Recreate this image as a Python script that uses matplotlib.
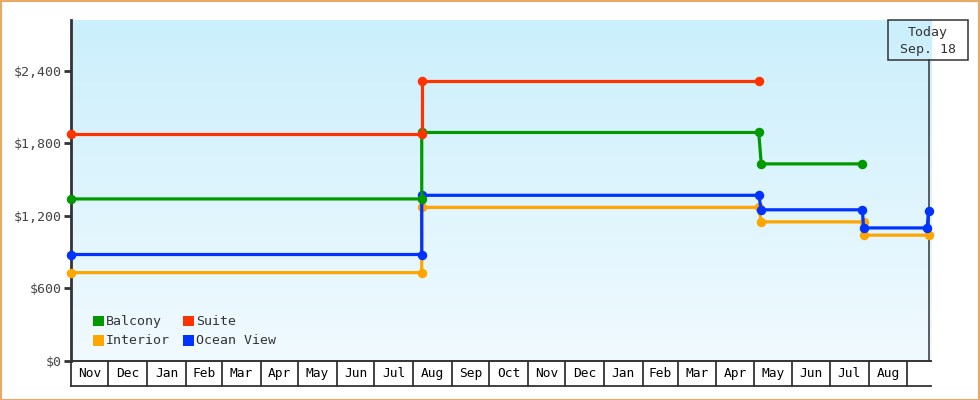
import matplotlib
matplotlib.use('Agg')
import matplotlib.pyplot as plt
import matplotlib.dates as mdates
import matplotlib.transforms as mtransforms
from matplotlib.patches import Rectangle
import pandas as pd
import numpy as np

# ---------------- data ----------------
month_labels = ['Nov', 'Dec', 'Jan', 'Feb', 'Mar', 'Apr', 'May', 'Jun', 'Jul', 'Aug', 'Sep', 'Oct',
                'Nov', 'Dec', 'Jan', 'Feb', 'Mar', 'Apr', 'May', 'Jun', 'Jul', 'Aug']
axis_start = '2015-11-01'
axis_end = '2017-09-20'
today = '2017-09-18'
today_lines = ['Today', 'Sep. 18']

y_ticks = [0, 600, 1200, 1800, 2400]
y_max = 2820

series_names = ['Balcony', 'Suite', 'Interior', 'Ocean View']
series_colors = ['#009900', '#ff3300', '#ffa500', '#0033ff']

balcony_dates = ['2015-11-01', '2016-08-08', '2016-08-08', '2017-05-05', '2017-05-07', '2017-07-27']
balcony_prices = [1339, 1339, 1889, 1889, 1629, 1629]

suite_dates = ['2015-11-01', '2016-08-08', '2016-08-08', '2017-05-05']
suite_prices = [1879, 1879, 2319, 2319]

interior_dates = ['2015-11-01', '2016-08-08', '2016-08-08', '2017-05-05', '2017-05-07',
                  '2017-07-28', '2017-07-28', '2017-09-18']
interior_prices = [729, 729, 1269, 1269, 1149, 1149, 1039, 1039]

ocean_dates = ['2015-11-01', '2016-08-08', '2016-08-08', '2017-05-05', '2017-05-07',
               '2017-07-27', '2017-07-28', '2017-09-17', '2017-09-18']
ocean_prices = [879, 879, 1369, 1369, 1249, 1249, 1099, 1099, 1239]

series = {
    'Balcony': (balcony_dates, balcony_prices),
    'Suite': (suite_dates, suite_prices),
    'Interior': (interior_dates, interior_prices),
    'Ocean View': (ocean_dates, ocean_prices),
}
draw_order = ['Interior', 'Ocean View', 'Balcony', 'Suite']

# ---------------- figure ----------------
W, H = 980, 400
FONT = 'DejaVu Sans Mono'
DARK = '#333333'

fig = plt.figure(figsize=(W / 100, H / 100), dpi=100)
fig.patch.set_facecolor('white')

def fx(x):
    return x / W

def fy(y):
    return 1 - y / H

ax_left, ax_right, ax_top, ax_bottom = 71, 931, 20, 360.7
ax = fig.add_axes([fx(ax_left), fy(ax_bottom), (ax_right - ax_left) / W, (ax_bottom - ax_top) / H])
ax.set_facecolor('none')

x0 = mdates.date2num(pd.Timestamp(axis_start))
x1 = mdates.date2num(pd.Timestamp(axis_end))

# gradient background
top_c = np.array([203, 239, 252]) / 255
bot_c = np.array([241, 250, 255]) / 255
t = np.linspace(0, 1, 256)[:, None]
grad = (top_c[None, :] * (1 - t) + bot_c[None, :] * t)[:, None, :]
ax.imshow(grad, extent=(0, 1, 0, 1), transform=ax.transAxes, aspect='auto', zorder=0,
          interpolation='bilinear')
ax.set_xlim(x0, x1)
ax.set_ylim(0, y_max)

# spines
for s in ['top', 'right']:
    ax.spines[s].set_visible(False)
ax.spines['left'].set_color(DARK)
ax.spines['left'].set_linewidth(2.0)
ax.spines['bottom'].set_color(DARK)
ax.spines['bottom'].set_linewidth(1.4)

ax.set_xticks([])
ax.set_yticks(y_ticks)
ax.set_yticklabels(['${:,}'.format(v) for v in y_ticks], fontfamily=FONT, fontsize=9.5, color='#444444')
ax.tick_params(axis='y', direction='out', length=5, width=2, color=DARK, pad=1.5)

# series
for name in draw_order:
    dates, prices = series[name]
    col = series_colors[series_names.index(name)]
    xs = mdates.date2num(pd.to_datetime(dates))
    z = 3 + draw_order.index(name)
    ax.plot(xs, prices, color=col, lw=2.3, solid_capstyle='butt', zorder=z, clip_on=False)
    ax.plot(xs, prices, ls='none', marker='o', ms=5.8, color=col, mec=col, zorder=z, clip_on=False)

# today line
tx = mdates.date2num(pd.Timestamp(today))
blend = mtransforms.blended_transform_factory(ax.transData, ax.transAxes)
ax.plot([tx, tx], [0, (ax_bottom - 60.3) / (ax_bottom - ax_top)], color=DARK, lw=1.1,
        transform=blend, zorder=2, clip_on=False)

# month boxes below axis
box_h = (385.7 - ax_bottom) / (ax_bottom - ax_top)
bounds = pd.date_range(axis_start, periods=len(month_labels) + 1, freq='MS')
bnum = mdates.date2num(bounds)
for b in bnum:
    ax.plot([b, b], [0, -box_h], color=DARK, lw=1.3, transform=blend, clip_on=False, zorder=5)
ax.plot([x0, x1], [-box_h, -box_h], color=DARK, lw=1.3, transform=blend, clip_on=False, zorder=5)
for i, lab in enumerate(month_labels):
    mid = (bnum[i] + bnum[i + 1]) / 2
    ax.text(mid, -box_h / 2, lab, transform=blend, ha='center', va='center', fontfamily=FONT,
            fontsize=9.3, color='black')

# legend (manual)
leg_pos = {'Balcony': (92.7, 315.7), 'Suite': (182.7, 315.7),
           'Interior': (92.7, 335.3), 'Ocean View': (182.7, 335.3)}
for name in series_names:
    px, py = leg_pos[name]
    col = series_colors[series_names.index(name)]
    fig.patches.append(Rectangle((fx(px), fy(py + 10.5)), 11 / W, 10.5 / H, transform=fig.transFigure,
                                 facecolor=col, edgecolor='none', zorder=10))
    fig.text(fx(px + 13.5), fy(py + 5.5), name, ha='left', va='center', fontfamily=FONT,
             fontsize=9.5, color=DARK, zorder=10)

# today box
fig.patches.append(Rectangle((fx(888.3), fy(60.3)), 80 / W, 40 / H, transform=fig.transFigure,
                             facecolor='none', edgecolor=DARK, lw=1.1, zorder=10))
fig.text(fx(928), fy(32.5), today_lines[0], ha='center', va='center', fontfamily=FONT,
         fontsize=9.5, color=DARK)
fig.text(fx(928), fy(50), today_lines[1], ha='center', va='center', fontfamily=FONT,
         fontsize=9.5, color=DARK)

# orange frame
fig.patches.append(Rectangle((0.5 / W, 0.5 / H), 1 - 1.5 / W, 1 - 1.5 / H, transform=fig.transFigure,
                             facecolor='none', edgecolor='#e9a964', lw=1.5, zorder=20))

fig.savefig('out.png', dpi=100, facecolor='white')
